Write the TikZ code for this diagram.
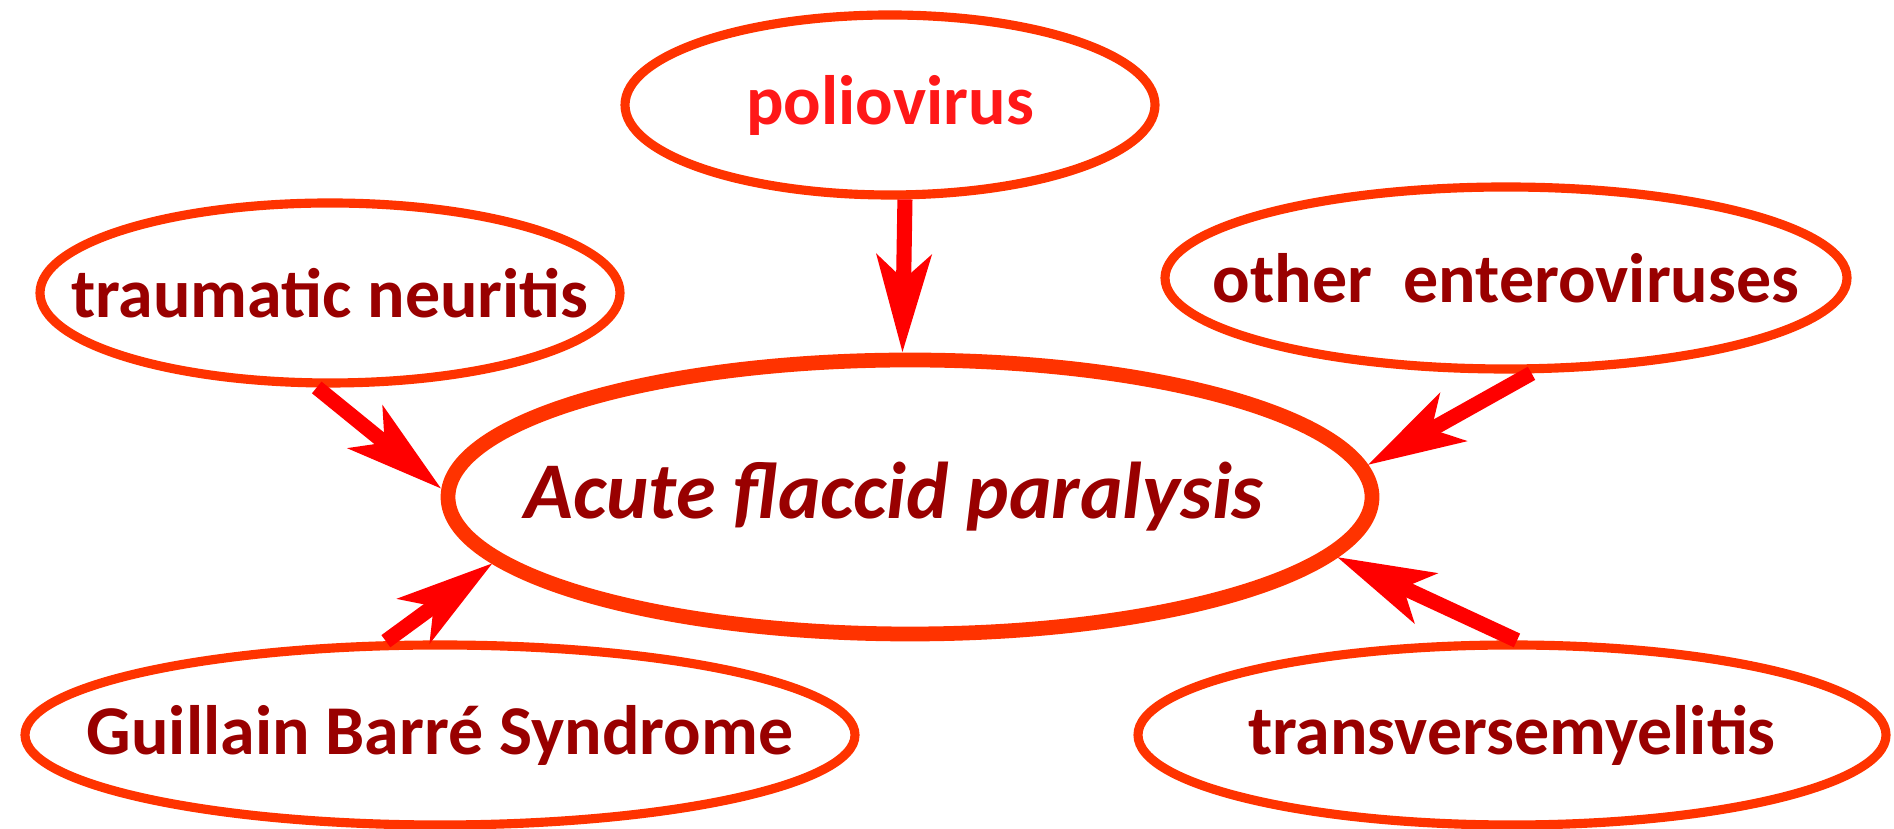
\documentclass[tikz,border=0pt]{standalone}
\usepackage{fontspec}
\setmainfont{Carlito}
\usepackage{tikz}
\usetikzlibrary{shapes.geometric,arrows.meta}
\usepackage{xcolor}
\definecolor{ringred}{RGB}{255,51,0}
\definecolor{darkred}{RGB}{153,0,0}
\definecolor{poliored}{RGB}{255,24,24}
\definecolor{arrowred}{RGB}{255,0,0}

\begin{document}
\begin{tikzpicture}[
    bub/.style={ellipse, draw=ringred, line width=2.6pt, inner sep=0pt, font=\bfseries\fontsize{19.9}{24}\selectfont, text=darkred},
    cause/.style={-{Stealth[length=9.7mm, width=5.4mm, inset=2.4mm]}, line width=4.3pt, draw=arrowred}
]
    \useasboundingbox (0,0) rectangle (18.94,8.29);

    % Causes
    \node[bub, text=poliored, minimum width=5.30cm, minimum height=1.80cm] (polio) at (8.90,7.24) {\makebox[0pt]{poliovirus}};
    \node[bub, minimum width=5.80cm, minimum height=1.80cm] (trauma) at (3.30,5.36) {\makebox[0pt]{traumatic neuritis}};
    \node[bub, minimum width=6.82cm, minimum height=1.82cm] (entero) at (15.06,5.51) {\makebox[0pt]{other\ \ enteroviruses}};
    \node[bub, minimum width=8.30cm, minimum height=1.80cm] (gbs) at (4.40,0.94) {\makebox[0pt]{Guillain Barré Syndrome}};
    \node[bub, minimum width=7.48cm, minimum height=1.80cm] (tmye) at (15.12,0.94) {\makebox[0pt]{transversemyelitis}};

    % Disease
    \node[bub, line width=4.2pt, minimum width=9.24cm, minimum height=2.74cm, font=\bfseries\itshape\fontsize{22.9}{27}\selectfont] (afp) at (9.10,3.32) {\makebox[0pt]{Acute flaccid paralysis\hspace{0.32cm}}};

    \draw[cause] (polio.-81) -- (afp.93);
    \draw[cause] (trauma.-98) -- (afp.179);
    \draw[cause] (entero.-75) -- (afp.4);
    \draw[cause] (gbs.120) -- (afp.-171.5);
    \draw[cause] (tmye.87) -- (afp.-8);
\end{tikzpicture}
\end{document}
